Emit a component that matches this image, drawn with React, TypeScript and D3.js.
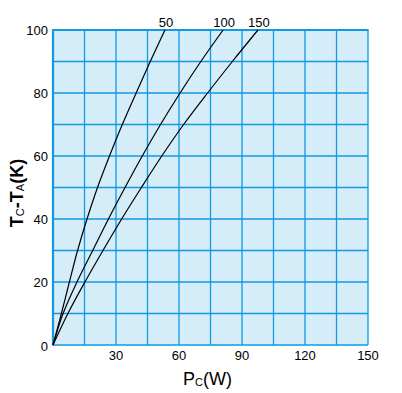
import React from "react";
import * as d3 from "d3";

const tempRise = [0, 10, 20, 30, 40, 50, 60, 70, 80, 90, 100];
const power50 = [0, 4, 7.8, 11.7, 16.2, 21.2, 26.9, 33, 39.6, 46.3, 53.3];
const power100 = [0, 4.8, 11.4, 18.9, 26.4, 34.3, 42.5, 51.2, 60.5, 70.4, 81];
const power150 = [0, 7.1, 15.2, 23.8, 32.7, 42.1, 51.8, 62.2, 73.6, 85.4, 97.6];
const seriesNames = ["50", "100", "150"];
const xTicks = [30, 60, 90, 120, 150];
const yTicks = [0, 20, 40, 60, 80, 100];
const xGrid = d3.range(0, 151, 15);
const yGrid = d3.range(0, 101, 10);

const W = 402;
const H = 393;
const M = { left: 53, right: 368, top: 30, bottom: 345 };
const GRID = "#0f9ae2";
const FILL = "#d5ecf9";
const FONT = "'Liberation Sans', Arial, sans-serif";

export default function App() {
  const x = d3.scaleLinear().domain([0, 150]).range([M.left, M.right]);
  const y = d3.scaleLinear().domain([0, 100]).range([M.bottom, M.top]);
  const series = [power50, power100, power150];
  const line = d3
    .line<number>()
    .x((d) => x(d))
    .y((_, i) => y(tempRise[i]))
    .curve(d3.curveCatmullRom.alpha(0.5));

  return (
    <svg
      width={W}
      height={H}
      style={{ position: "absolute", left: 0, top: 0, background: "#fff" }}
      fontFamily={FONT}
    >
      <rect x={M.left} y={M.top} width={M.right - M.left} height={M.bottom - M.top} fill={FILL} />
      {xGrid.map((v) => (
        <line key={"x" + v} x1={x(v)} x2={x(v)} y1={M.top} y2={M.bottom} stroke={GRID} strokeWidth={1.3} />
      ))}
      {yGrid.map((v) => (
        <line key={"y" + v} x1={M.left} x2={M.right} y1={y(v)} y2={y(v)} stroke={GRID} strokeWidth={1.3} />
      ))}
      <line x1={M.left} x2={M.left} y1={M.top - 1} y2={M.bottom + 0.6} stroke={GRID} strokeWidth={2.2} />
      <line x1={M.left - 1} x2={M.right + 0.6} y1={M.top} y2={M.top} stroke={GRID} strokeWidth={2.2} />
      {series.map((s, i) => (
        <path key={i} d={line(s) || ""} fill="none" stroke="#000" strokeWidth={1.2} />
      ))}
      {series.map((s, i) => (
        <text key={"l" + i} x={x(s[s.length - 1]) + 1} y={27} fontSize={13} textAnchor="middle" fill="#000">
          {seriesNames[i]}
        </text>
      ))}
      {yTicks.map((v) => (
        <text key={"yt" + v} x={48} y={y(v) + (v === 0 ? 1.5 : 0)} dy="0.35em" fontSize={13} textAnchor="end" fill="#000">
          {v}
        </text>
      ))}
      {xTicks.map((v) => (
        <text key={"xt" + v} x={x(v)} y={360} fontSize={13} textAnchor="middle" fill="#000">
          {v}
        </text>
      ))}
      <text x={183} y={385} fontSize={18} fill="#000">
        P<tspan fontSize={11} dy={1}>C</tspan>
        <tspan dy={-1}>(W)</tspan>
      </text>
      <text
        transform={`translate(23,193) rotate(-90)`}
        fontSize={18}
        fontWeight={600}
        textAnchor="middle"
        fill="#000"
      >
        T<tspan fontSize={11} fontWeight={400} dy={1}>C</tspan>
        <tspan dy={-1}>-T</tspan>
        <tspan fontSize={11} fontWeight={400} dy={1}>A</tspan>
        <tspan dy={-1}>(K)</tspan>
      </text>
    </svg>
  );
}
